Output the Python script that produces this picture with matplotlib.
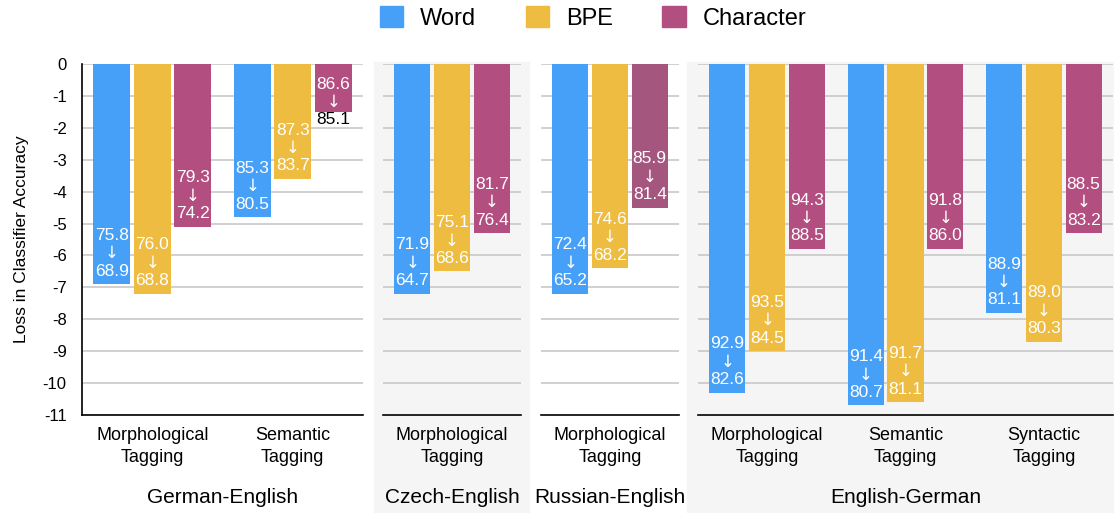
import matplotlib
matplotlib.use('AGG')
import numpy as np
import matplotlib.pyplot as plt
from matplotlib.patches import Rectangle, Patch

plt.rcParams['font.family'] = ['Liberation Sans', 'DejaVu Sans']
plt.rcParams['axes.unicode_minus'] = False

series = ['Word', 'BPE', 'Character']
colors = ['#47a0f8', '#eebc41', '#b24f80']

# one entry per panel
panel_titles = ['German-English', 'Czech-English', 'Russian-English', 'English-German']
panel_tasks = [
    ['Morphological\nTagging', 'Semantic\nTagging'],
    ['Morphological\nTagging'],
    ['Morphological\nTagging'],
    ['Morphological\nTagging', 'Semantic\nTagging', 'Syntactic\nTagging'],
]
# accuracy before -> after, per task: [Word, BPE, Character]
before = [
    [[75.8, 76.0, 79.3], [85.3, 87.3, 86.6]],
    [[71.9, 75.1, 81.7]],
    [[72.4, 74.6, 85.9]],
    [[92.9, 93.5, 94.3], [91.4, 91.7, 91.8], [88.9, 89.0, 88.5]],
]
after = [
    [[68.9, 68.8, 74.2], [80.5, 83.7, 85.1]],
    [[64.7, 68.6, 76.4]],
    [[65.2, 68.2, 81.4]],
    [[82.6, 84.5, 88.5], [80.7, 81.1, 86.0], [81.1, 80.3, 83.2]],
]

fig = plt.figure(figsize=(11.14, 5.13), dpi=100)
W, H = 1114.0, 513.0

# shaded panel backgrounds (pixels)
for x0, x1 in [(374, 529), (687, 1114)]:
    fig.patches.append(Rectangle((x0 / W, 0), (x1 - x0) / W, (H - 62) / H,
                                 transform=fig.transFigure, color='#f5f5f5', zorder=-10))

panel_px = [(82, 363), (383, 521), (541, 679), (698, 1113)]
top_px, bot_px = 64, 415
step, width = 0.288, 0.262
line = 0.56

for p, (x0, x1) in enumerate(panel_px):
    ax = fig.add_axes([x0 / W, (H - bot_px) / H, (x1 - x0) / W, (bot_px - top_px) / H])
    ax.set_facecolor('none')
    n = len(panel_tasks[p])
    for g in range(n):
        for s in range(3):
            b, a = before[p][g][s], after[p][g][s]
            d = a - b
            c = colors[s]
            if p == 2 and s == 2:
                c = '#a5567f'
            xc = g + (s - 1) * step
            ax.bar(xc, d, width, color=c, zorder=3)
            ylast = d + 0.41
            yfirst = ylast + 2 * line
            if yfirst > -0.63:
                yfirst = -0.63
                ylast = yfirst - 2 * line
            for k, txt in enumerate(['%.1f' % b, '\u2193', '%.1f' % a]):
                yy = yfirst - k * line
                tc = 'white' if yy > d else 'black'
                fam = 'DejaVu Sans' if k == 1 else None
                ax.text(xc, yy, txt, ha='center', va='center', color=tc,
                        fontsize=12.5 if k != 1 else 12, family=fam, zorder=4)
    ax.set_xlim(-0.5, n - 0.5)
    ax.set_ylim(-11, 0)
    ax.set_yticks(np.arange(0, -11, -1))
    ax.yaxis.grid(True, color='#c8c8c8', lw=1.2, zorder=1)
    ax.set_axisbelow(True)
    ax.set_xticks(range(n))
    ax.set_xticklabels(panel_tasks[p], fontsize=13, linespacing=1.35)
    ax.tick_params(axis='x', length=0, pad=9)
    ax.set_xlabel(panel_titles[p], fontsize=15, labelpad=16)
    for sp in ['top', 'right']:
        ax.spines[sp].set_visible(False)
    ax.spines['bottom'].set_linewidth(1.2)
    if p == 0:
        ax.spines['left'].set_linewidth(1.2)
        ax.set_yticks(np.arange(0, -12, -1))
        ax.tick_params(axis='y', length=0, pad=11, labelsize=12)
        ax.set_ylabel('Loss in Classifier Accuracy', fontsize=12.5, labelpad=10)
    else:
        ax.spines['left'].set_visible(False)
        ax.tick_params(axis='y', length=0, labelleft=False)

handles = [Patch(color=c) for c in colors]
fig.legend(handles, series, loc='center', bbox_to_anchor=(593 / W, 1 - 18 / H), ncol=3,
           frameon=False, fontsize=17, handlelength=1.0, handleheight=1.0,
           handletextpad=0.7, columnspacing=2.1)

fig.savefig('out.png', dpi=100)
